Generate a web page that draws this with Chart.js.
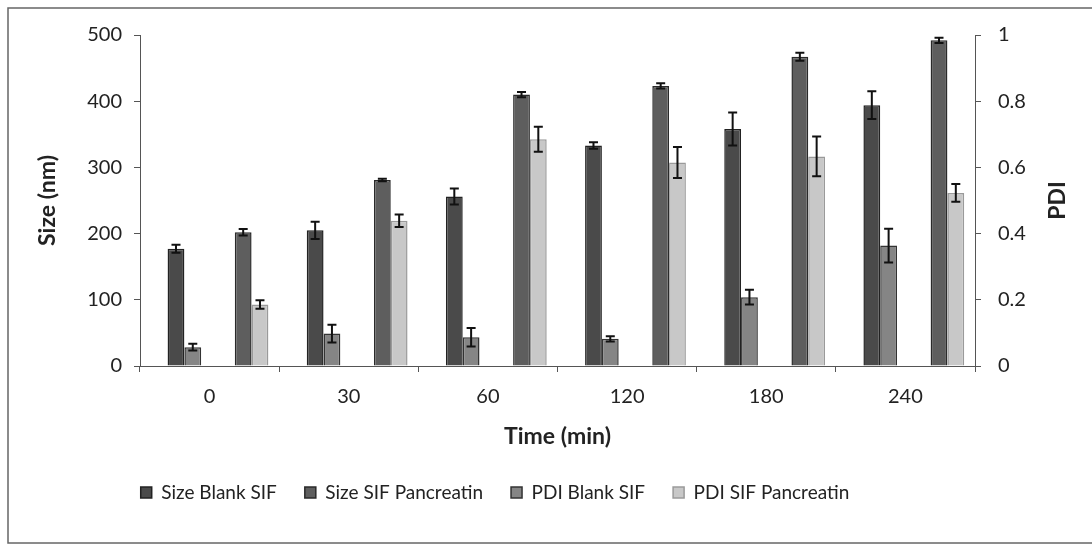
<!DOCTYPE html>
<html lang="en">
<head>
<meta charset="UTF-8">
<title>Size and PDI over time</title>
<script src="https://cdn.jsdelivr.net/npm/chart.js"></script>
<style>
  body { margin: 0; background: #fff; }
  #wrap { width: 1092px; height: 545px; position: relative; }
</style>
</head>
<body>
<div id="wrap"><canvas id="sizeChart"></canvas></div>
<script>
// values
const times = ['0', '30', '60', '120', '180', '240'];
const sizeBlank = [177, 205, 256, 333, 358, 394];
const sizeBlankErr = [6, 13, 12, 5, 25, 21];
const sizePanc = [202, 281, 410, 423, 467, 492];
const sizePancErr = [5, 2, 4, 4, 6, 4];
const pdiBlank = [0.057, 0.098, 0.087, 0.082, 0.208, 0.364];
const pdiBlankErr = [0.01, 0.027, 0.028, 0.008, 0.022, 0.051];
const pdiPanc = [0.186, 0.439, 0.685, 0.615, 0.633, 0.523];
const pdiPancErr = [0.013, 0.019, 0.038, 0.047, 0.06, 0.027];

const FONT = 'Lato, "Liberation Sans", sans-serif';
Chart.defaults.font.family = FONT;
Chart.defaults.font.size = 20;
Chart.defaults.color = '#222';

// empty slot so the Size/PDI pairs sit apart like in Excel
const gap = () => ({ label: '', data: [], yAxisID: 'y' });

const errorBars = {
  id: 'errorBars',
  afterDatasetsDraw(chart) {
    const ctx = chart.ctx;
    ctx.save();
    ctx.strokeStyle = '#111';
    ctx.lineWidth = 2;
    chart.data.datasets.forEach((ds, i) => {
      if (!ds.errors) return;
      const scale = chart.scales[ds.yAxisID];
      chart.getDatasetMeta(i).data.forEach((bar, j) => {
        const v = ds.data[j], e = ds.errors[j];
        const top = scale.getPixelForValue(v + e);
        const bot = scale.getPixelForValue(v - e);
        ctx.beginPath();
        ctx.moveTo(bar.x, top); ctx.lineTo(bar.x, bot);
        ctx.moveTo(bar.x - 4.5, top); ctx.lineTo(bar.x + 4.5, top);
        ctx.moveTo(bar.x - 4.5, bot); ctx.lineTo(bar.x + 4.5, bot);
        ctx.stroke();
      });
    });
    ctx.restore();
  }
};

const frame = {
  id: 'frame',
  beforeDraw(chart) {
    const ctx = chart.ctx;
    ctx.save();
    ctx.strokeStyle = '#666';
    ctx.lineWidth = 1.5;
    ctx.strokeRect(8, 8, 1100, 535);
    ctx.restore();
    // legend is a bit left of centre in the original
    chart.legend.left = 0;
    chart.legend.right = 990;
  },
  afterDraw(chart) {
    // right axis title reads bottom-to-top in the original
    const ctx = chart.ctx;
    const a = chart.chartArea;
    ctx.save();
    ctx.translate(1058, (a.top + a.bottom) / 2);
    ctx.rotate(-Math.PI / 2);
    ctx.font = 'bold 23px ' + FONT;
    ctx.fillStyle = '#222';
    ctx.textAlign = 'center';
    ctx.textBaseline = 'middle';
    ctx.fillText('PDI', 0, 0);
    ctx.restore();
  }
};

const legendOrder = [1, 5, 2, 6];

new Chart(document.getElementById('sizeChart'), {
  type: 'bar',
  data: {
    labels: times,
    datasets: [
      gap(),
      { label: 'Size Blank SIF', data: sizeBlank, errors: sizeBlankErr, yAxisID: 'y',
        backgroundColor: '#4a4a4a', borderColor: '#222', borderWidth: 1.5 },
      { label: 'PDI Blank SIF', data: pdiBlank, errors: pdiBlankErr, yAxisID: 'y1',
        backgroundColor: '#858585', borderColor: '#333', borderWidth: 1.5 },
      gap(),
      gap(),
      { label: 'Size SIF Pancreatin', data: sizePanc, errors: sizePancErr, yAxisID: 'y',
        backgroundColor: '#5e5e5e', borderColor: '#2a2a2a', borderWidth: 1.5 },
      { label: 'PDI SIF Pancreatin', data: pdiPanc, errors: pdiPancErr, yAxisID: 'y1',
        backgroundColor: '#c8c8c8', borderColor: '#9a9a9a', borderWidth: 1.5 }
    ]
  },
  options: {
    responsive: true,
    maintainAspectRatio: false,
    animation: false,
    categoryPercentage: 0.845,
    barPercentage: 1,
    layout: { padding: { top: 35, bottom: 33, left: 0, right: 0 } },
    plugins: {
      legend: {
        position: 'bottom',
        labels: {
          boxWidth: 11,
          boxHeight: 11,
          padding: 28,
          font: { size: 19 },
          filter: item => item.text !== '',
          sort: (a, b) => legendOrder.indexOf(a.datasetIndex) - legendOrder.indexOf(b.datasetIndex)
        }
      },
      tooltip: { enabled: false }
    },
    scales: {
      x: {
        grid: { drawOnChartArea: false, tickLength: 6, color: '#555', offset: true },
        border: { color: '#555' },
        ticks: { padding: 13 },
        title: { display: true, text: 'Time (min)', font: { weight: 'bold', size: 23 }, padding: { top: 0, bottom: 5 } },
        afterFit: s => { s.height = 89; }
      },
      y: {
        position: 'left',
        min: 0, max: 500,
        grid: { drawOnChartArea: false, tickLength: 6, color: '#555' },
        border: { color: '#555' },
        ticks: { stepSize: 100, padding: 12 },
        title: { display: true, text: 'Size (nm)', font: { weight: 'bold', size: 23 }, padding: { top: 34, bottom: 0 } },
        afterFit: s => { s.width = 140; }
      },
      y1: {
        position: 'right',
        min: 0, max: 1,
        grid: { drawOnChartArea: false, tickLength: 6, color: '#555' },
        border: { color: '#555' },
        ticks: { stepSize: 0.2, padding: 17, callback: v => +v.toFixed(1) },
        afterFit: s => { s.width = 117; }
      }
    }
  },
  plugins: [errorBars, frame]
});
</script>
</body>
</html>
